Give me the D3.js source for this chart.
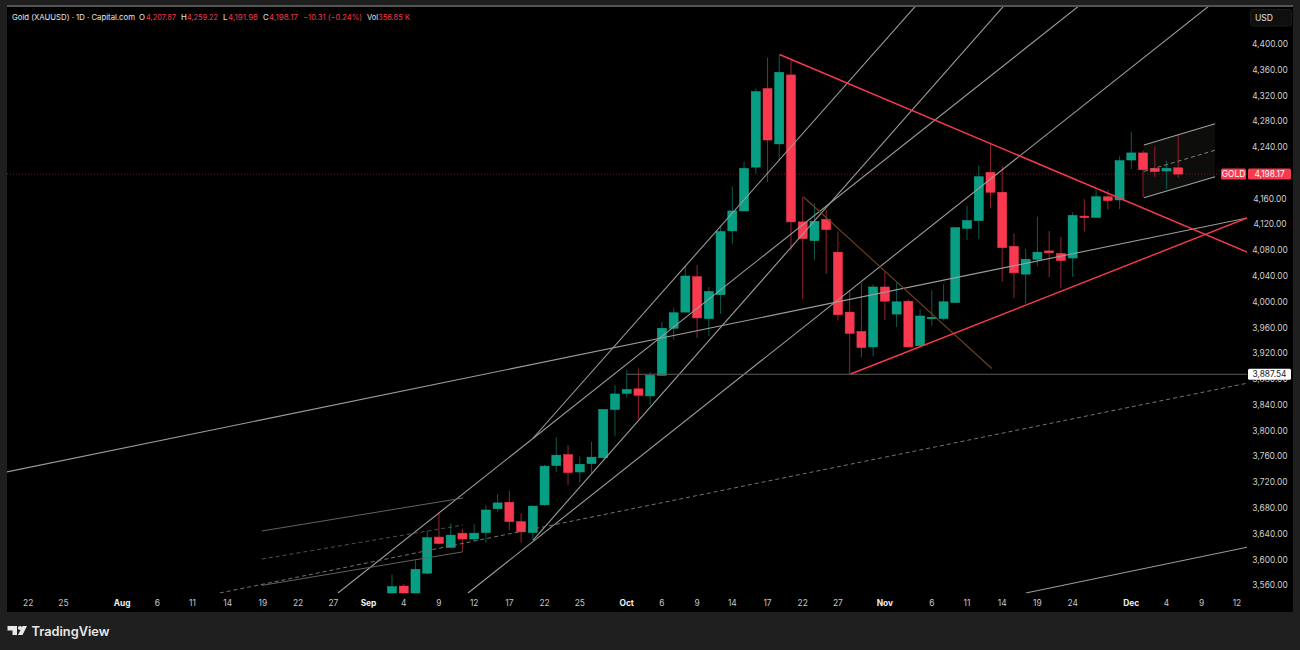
<!DOCTYPE html>
<html><head><meta charset="utf-8">
<script src="https://cdn.jsdelivr.net/npm/d3@7"></script>
<style>html,body{margin:0;padding:0;background:#1f1f1f}svg{display:block}text{font-family:Inter,"Noto Sans",sans-serif}</style>
</head><body><svg id="c" width="1300" height="650"></svg>
<script>
// Daily candles, bar 0 = 3 Sep
const opens=[3548,3559,3548,3579,3635,3619,3641,3632,3642,3679,3689,3659,3642,3685,3746,3763,3736,3749,3758,3833,3858,3865,3854,3886,3959,3984,4039,3974,4011,4110,4141,4209,4331,4245,4352,4124,4095,4128,4077,3984,3954,3930,4023,3981,4001,3932,3976,3974,3999,4114,4126,4201,4170,4086,4043,4066,4079,4075,4068,4133,4131,4163,4158,4220,4231,4207,4203,4207.87];
const highs=[3577,3562,3599,3645,3673,3656,3648,3655,3684,3702,3707,3672,3684,3747,3790,3778,3760,3783,3833,3871,3894,3896,3891,3969,3990,4057,4057,4023,4116,4179,4217,4331,4379,4383,4375,4163,4153,4143,4109,4017,4029,4027,4046,4030,4004,3989,4018,4027,4115,4149,4211,4245,4211,4106,4082,4132,4110,4101,4139,4159,4174,4174,4226,4264,4235,4241,4219,4259.22];
const lows=[3547,3547,3548,3577,3624,3618,3612,3629,3626,3674,3645,3626,3630,3683,3736,3716,3720,3734,3757,3792,3852,3818,3840,3885,3941,3984,3944,3947,3981,4090,4140,4199,4186,4219,4080,4004,4065,4043,3971,3888,3914,3915,3972,3961,3929,3930,3963,3971,3998,4096,4098,4145,4031,4006,3997,4055,4038,4021,4039,4109,4130,4143,4144,4206,4162,4194,4175,4191.98];
const closes=[3558,3548,3585,3634,3625,3638,3632,3641,3677,3688,3659,3643,3683,3745,3762,3735,3748,3759,3833,3857,3864,3855,3886,3959,3983,4040,3975,4016,4109,4141,4207,4326,4251,4356,4124,4098,4125,4112,3980,3951,3929,4023,4001,4000,3930,3978,3976,4000,4115,4126,4194,4170,4084,4045,4066,4077,4076,4064,4134,4131,4163,4157,4219,4231,4205,4202,4207,4198.17];

// Axis labels
const priceTicks=[4400,4360,4320,4280,4240,4160,4120,4080,4040,4000,3960,3920,3880,3840,3800,3760,3720,3680,3640,3600,3560];
const timeLabels=["22","25","Aug","6","11","14","19","22","27","Sep","4","9","12","17","22","25","Oct","6","9","14","17","22","27","Nov","6","11","14","19","24","Dec","4","9","12"];
const timeBars=[-31,-28,-23,-20,-17,-14,-11,-8,-5,-2,1,4,7,10,13,16,20,23,26,29,32,35,38,42,46,49,52,55,58,63,66,69,72];
const monthLabels=["Aug","Sep","Oct","Nov","Dec"];

// Drawings: bar, price, bar, price
const grayLines=[
 [-32.85,3735.9,72.87,4130],
 [-4.61,3548.2,58.53,4459],
 [12.03,3788.7,44.62,4459],
 [12.03,3630.4,52.13,4459],
 [6.48,3548.2,69.62,4459],
 [54.01,3548.2,72.95,3619.6],
 [20,3887.54,72.87,3887.54]
];
const dimLines=[[-11.09,3644.4,6.06,3695.6],[-11.09,3560,5.97,3611.8]];
const dashLines=[[-14.68,3548.2,72.95,3874]];
const dimDashLines=[[-11.09,3600.9,6.06,3653.7]];
const redLines=[[33.02,4383.7,72.87,4077.3],[39.08,3888,72.87,4130]];
const brownLines=[[35.07,4162.6,51.11,3896.5]];
const channelTop=[64.08,4243.3,70.14,4276.4];
const channelMid=[64.08,4202.4,70.14,4235.2];
const channelBot=[64.08,4161.5,70.14,4194.1];

const lastPrice=4198.17, swingLow=3887.54;
const headerParts=[["Gold (XAUUSD) · 1D · Capital.com",12,"w",123],["O",139,"w",0],["4,207.87",146,"r",30],["H",181,"w",0],["4,259.22",187,"r",31],["L",223,"w",0],["4,191.98",228,"r",30],["C",263,"w",0],["4,198.17",269,"r",29],["−10.31 (−0.24%)",303,"r",59],["Vol",367,"w",11],["356.85 K",378,"r",32]];

const svg=d3.select("#c");
const X=d3.scaleLinear().domain([0,72]).range([392,392+72*11.735]);
const Y=d3.scaleLinear().domain([3560,4400]).range([585.4,44]);
const BG="#1f1f1f",GREEN="#089e84",RED="#f8394f";

svg.append("rect").attr("width",1300).attr("height",650).attr("fill",BG);
svg.append("rect").attr("x",7).attr("y",7).attr("width",1286).attr("height",605).attr("fill","#000");
svg.append("line").attr("x1",7).attr("x2",1293).attr("y1",6).attr("y2",6).attr("stroke","#8a8a8a").attr("stroke-width",1.2);
const defs=svg.append("defs");
defs.append("clipPath").attr("id","pane").append("rect").attr("x",7).attr("y",7).attr("width",1240).attr("height",586.5);
const pane=svg.append("g").attr("clip-path","url(#pane)");

function seg(g,a,color,w,dash,op){
  g.append("line").attr("x1",X(a[0])).attr("y1",Y(a[1])).attr("x2",X(a[2])).attr("y2",Y(a[3]))
   .attr("stroke",color).attr("stroke-width",w).attr("stroke-dasharray",dash||null).attr("opacity",op||1);
}
// channel fill
pane.append("path").attr("fill","#0d0e0c")
  .attr("d",d3.line()([[X(channelTop[0]),Y(channelTop[1])],[X(channelTop[2]),Y(channelTop[3])],[X(channelBot[2]),Y(channelBot[3])],[X(channelBot[0]),Y(channelBot[1])]])+"Z");
// last price line
pane.append("line").attr("x1",7).attr("x2",1247).attr("y1",Y(lastPrice)).attr("y2",Y(lastPrice)).attr("stroke","#6e1a25").attr("stroke-width",1).attr("stroke-dasharray","1 2");

// candles
const bars=d3.range(opens.length);
const up=i=>closes[i]>=opens[i];
pane.selectAll("line.w").data(bars).join("line").attr("class","w")
  .attr("x1",i=>X(i)).attr("x2",i=>X(i)).attr("y1",i=>Y(highs[i])).attr("y2",i=>Y(lows[i]))
  .attr("stroke",i=>up(i)?"#0a5449":"#85202d").attr("stroke-width",1.1);
pane.selectAll("rect.b").data(bars).join("rect").attr("class","b")
  .attr("x",i=>X(i)-4.5).attr("width",9)
  .attr("y",i=>Y(Math.max(opens[i],closes[i])))
  .attr("height",i=>Math.max(1.5,Math.abs(Y(opens[i])-Y(closes[i]))))
  .attr("fill",i=>up(i)?GREEN:RED).attr("stroke",i=>up(i)?"#0fae93":RED).attr("stroke-width",.5);

// drawings
grayLines.forEach((a,i)=>seg(pane,a,i==6?"#5e5e5e":"#9c9c9c",1.1));
dimLines.forEach(a=>seg(pane,a,"#626262",1));
dashLines.forEach(a=>seg(pane,a,"#747474",1,"4 3"));
dimDashLines.forEach(a=>seg(pane,a,"#505050",1,"4 3"));
brownLines.forEach(a=>seg(pane,a,"#6f421c",1.1));
redLines.forEach(a=>seg(pane,a,"#f8394f",1.4));
seg(pane,channelTop,"#a0a0a0",1.1);seg(pane,channelBot,"#a0a0a0",1.1);seg(pane,channelMid,"#808080",1,"4 3");

// price axis
svg.selectAll("text.p").data(priceTicks).join("text").attr("class","p")
  .attr("x",1270).attr("y",d=>Y(d)+3).attr("text-anchor","middle").attr("font-size",8.4).attr("fill","#cfcfcf")
  .text(d=>d3.format(",.2f")(d));
// time axis
svg.selectAll("text.t").data(timeLabels).join("text").attr("class","t")
  .attr("x",(d,i)=>X(timeBars[i])).attr("y",606).attr("text-anchor","middle").attr("font-size",8.4)
  .attr("font-weight",d=>monthLabels.includes(d)?700:400).attr("fill",d=>monthLabels.includes(d)?"#f0f0f0":"#c8c8c8").text(d=>d);

// header
svg.selectAll("text.h").data(headerParts).join("text").attr("class","h")
  .attr("x",d=>d[1]).attr("y",20).attr("font-size",7.8).attr("fill",d=>d[2]=="w"?"#e6e6e6":"#f0384e")
  .attr("textLength",d=>d[3]||null).attr("lengthAdjust","spacingAndGlyphs").text(d=>d[0]);

// USD button
svg.append("rect").attr("x",1250.5).attr("y",9.5).attr("width",41).attr("height",16.5).attr("rx",2.5).attr("fill","#0f0f0f").attr("stroke","#1b1b1b");
svg.append("text").attr("x",1264).attr("y",21).attr("text-anchor","middle").attr("font-size",8.6).attr("fill","#e0e0e0").text("USD");

// price labels
const yL=Y(lastPrice);
svg.append("rect").attr("x",1221).attr("y",yL-5.5).attr("width",25).attr("height",11).attr("rx",1.5).attr("fill",RED);
svg.append("rect").attr("x",1248).attr("y",yL-5.5).attr("width",43).attr("height",11).attr("rx",1.5).attr("fill",RED);
svg.append("text").attr("x",1233.5).attr("y",yL+3).attr("text-anchor","middle").attr("font-size",8.4).attr("fill","#fff").text("GOLD");
svg.append("text").attr("x",1269.5).attr("y",yL+3).attr("text-anchor","middle").attr("font-size",8.4).attr("fill","#fff").text(d3.format(",.2f")(lastPrice));
const yS=Y(swingLow);
svg.append("rect").attr("x",1248).attr("y",yS-5.5).attr("width",43).attr("height",11).attr("rx",1.5).attr("fill","#fff");
svg.append("text").attr("x",1269.5).attr("y",yS+3).attr("text-anchor","middle").attr("font-size",8.4).attr("fill","#222").text(d3.format(",.2f")(swingLow));

// footer logo + name
const logo=svg.append("g").attr("fill","#e8e8e8");
logo.append("path").attr("d","M7.5 626H17V635H12.5V630.5H7.5Z");
logo.append("circle").attr("cx",20).attr("cy",628).attr("r",2.1);
logo.append("path").attr("d","M22.5 626H27L22.5 635H18Z");
svg.append("text").attr("x",31.5).attr("y",635.5).attr("font-size",12.8).attr("font-weight",600).attr("fill","#e8e8e8").text("TradingView");
</script></body></html>
